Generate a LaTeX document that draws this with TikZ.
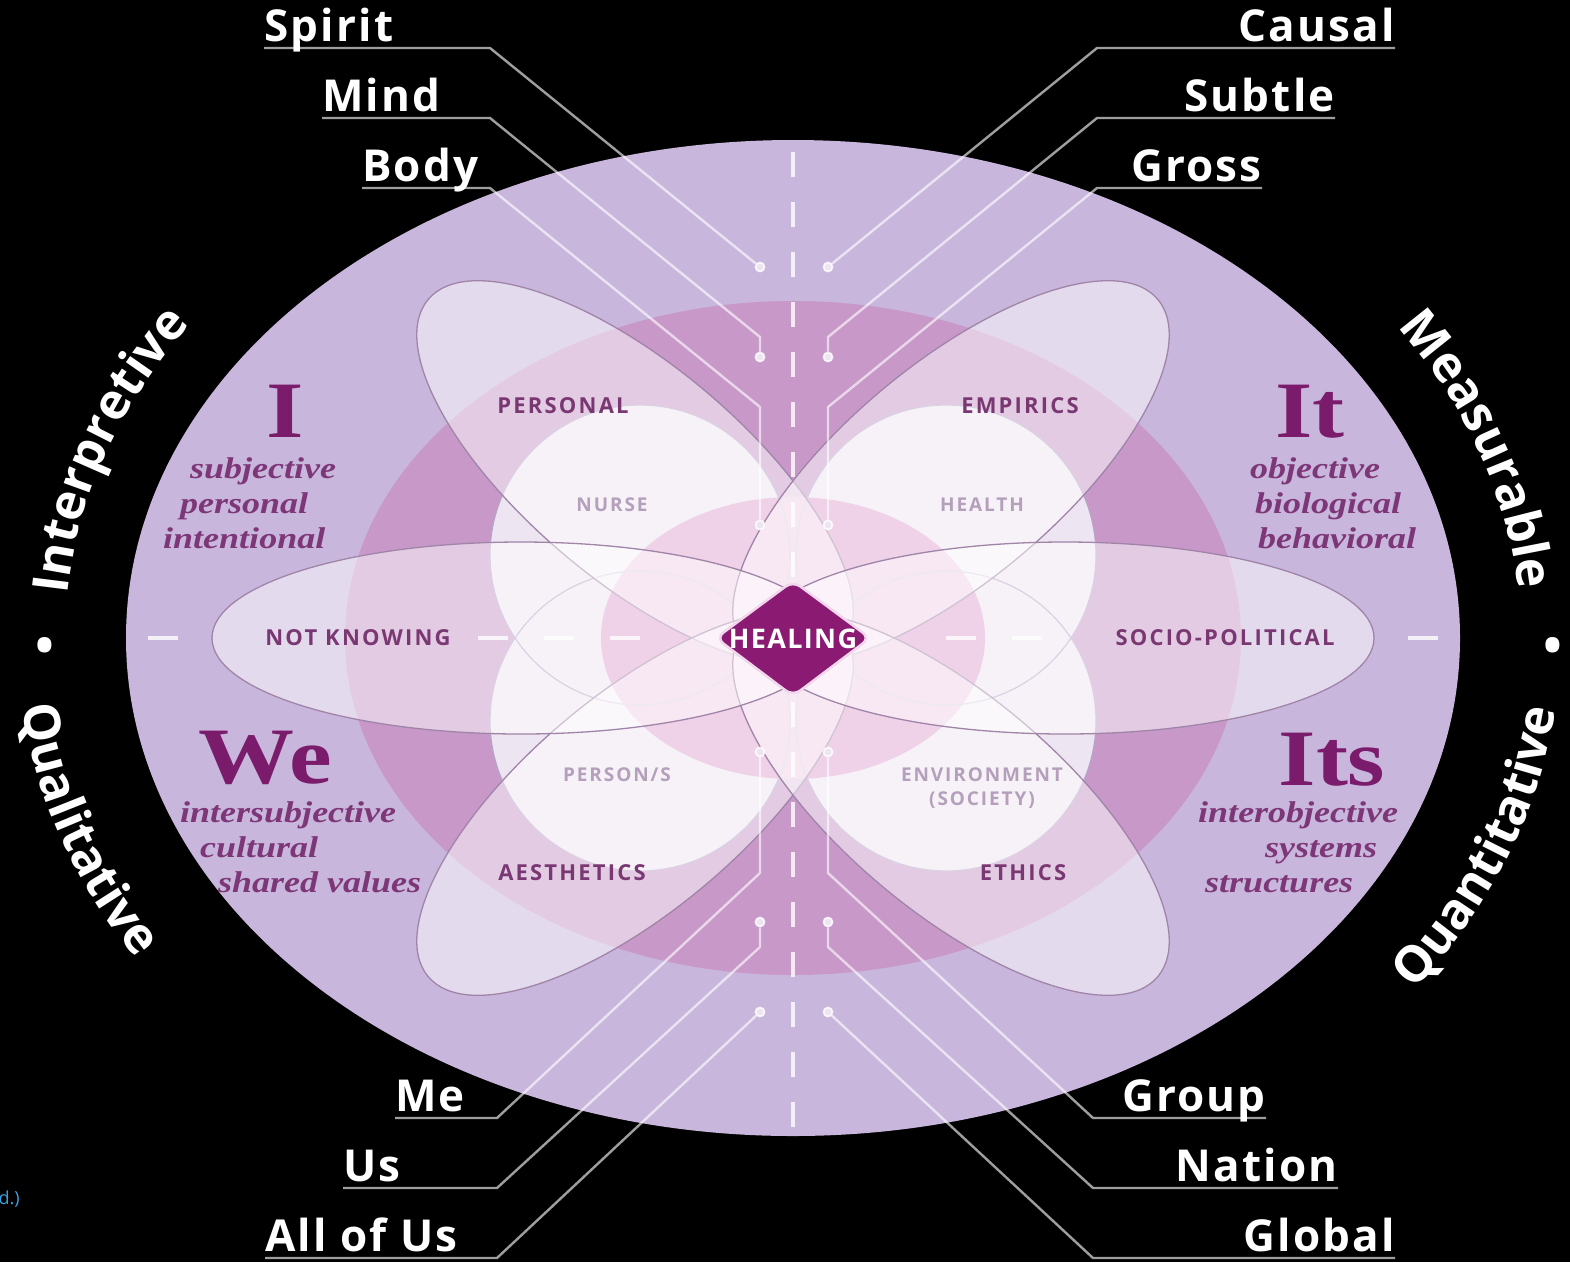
\documentclass[tikz,border=0pt]{standalone}
\usepackage{fontspec}
\setmainfont{Open Sans}
\newfontfamily\labfam{Open Sans}[LetterSpace=5]
\newfontfamily\petfam{Open Sans}[LetterSpace=10]
\newfontfamily\axisfam{Open Sans}
\newfontfamily\qserif{Liberation Serif}[FakeStretch=1.2]
\newfontfamily\smallfam{Open Sans}
\usetikzlibrary{decorations.text}
\definecolor{lav}{HTML}{C9B6DC}
\definecolor{mauve}{HTML}{C898C9}
\definecolor{pinkc}{HTML}{E0A4D2}
\definecolor{pale}{HTML}{EEE5F2}
\definecolor{plum}{HTML}{7B1B6B}
\definecolor{qtext}{HTML}{7D3677}
\definecolor{ptext}{HTML}{7A3872}
\definecolor{ctext}{HTML}{B5A0BC}
\definecolor{diam}{HTML}{8A1A72}
\definecolor{outl}{HTML}{A085A8}
\definecolor{circl}{HTML}{B7A3C7}
\definecolor{dedge}{HTML}{F2D6EC}
\definecolor{linkblue}{HTML}{3AA0E0}
\newcommand\axfont{\axisfam\bfseries\fontsize{50}{56}\selectfont}
\tikzset{
  lbl/.style={font=\labfam\bfseries\fontsize{44}{50}\selectfont, text=white, inner sep=0pt},
  leader/.style={draw=white, draw opacity=0.62, line width=2.4pt},
  dotn/.style={circle, draw=white, draw opacity=0.8, line width=1.8pt, fill=pale, inner sep=0pt, minimum size=9pt},
  petal/.style={fill=white, fill opacity=0.5, draw=outl, line width=1.3pt},
  circfill/.style={fill=pale},
  circline/.style={draw=circl, line width=1.2pt},
  dashl/.style={draw=white, draw opacity=0.8, line width=4pt},
  petlab/.style={font=\petfam\bfseries\fontsize{22}{26}\selectfont, text=ptext, inner sep=0pt},
  circlab/.style={font=\petfam\bfseries\fontsize{19}{23}\selectfont, text=ctext, inner sep=0pt},
  bigq/.style={font=\qserif\bfseries\fontsize{80}{84}\selectfont, text=plum, inner sep=0pt},
  qital/.style={font=\qserif\bfseries\itshape\fontsize{30}{34}\selectfont, text=qtext, inner sep=0pt, anchor=base west},
  axtext/.style={decorate, decoration={text along path, text align=center, text color=white, text={|\axfont|#1}}}
}
\begin{document}
\begin{tikzpicture}[x=1pt,y=-1pt]
\fill[black] (0,0) rectangle (1570,1262);
\useasboundingbox (0,0) rectangle (1570,1262);

% concentric fields
\fill[lav] (793,638) ellipse (667 and 498);
\fill[mauve] (793,638) ellipse (448 and 337);
\foreach \cx/\cy in {640/555, 946/555, 640/721, 946/721} \fill[circfill] (\cx,\cy) circle (150);
\fill[pinkc] (793,638) ellipse (192 and 141);
\foreach \cx/\cy in {640/555, 946/555, 640/721, 946/721} \draw[circline] (\cx,\cy) circle (150);

% petals
\path[petal, rotate around={140:(635,473)}] (635,473) ellipse (270 and 108);
\path[petal, rotate around={40:(951,473)}] (951,473) ellipse (270 and 108);
\path[petal, rotate around={40:(635,803)}] (635,803) ellipse (270 and 108);
\path[petal, rotate around={140:(951,803)}] (951,803) ellipse (270 and 108);
\path[petal] (521,638) ellipse (309 and 96);
\path[petal] (1065,638) ellipse (309 and 96);

% quadrant texts
\begin{scope}
\clip (793,638) ellipse (667 and 498);
\node[bigq, anchor=base] (qI) at (285,437) {I};
\node[bigq, anchor=base] (qIt) at (1310,437) {It};
\node[bigq, anchor=base] (qWe) at (265,783) {We};
\node[bigq, anchor=base] (qIts) at (1332,785) {Its};
\node[qital] (t1) at (190,478) {subjective};
\node[qital] (t2) at (180,513) {personal};
\node[qital] (t3) at (163,548) {intentional};
\node[qital] (t4) at (1250,478) {objective};
\node[qital] (t5) at (1255,513) {biological};
\node[qital] (t6) at (1258,548) {behavioral};
\node[qital] (t7) at (180,822) {intersubjective};
\node[qital] (t8) at (200,857) {cultural};
\node[qital] (t9) at (218,892) {shared values};
\node[qital] (t10) at (1198,822) {interobjective};
\node[qital] (t11) at (1265,857) {systems};
\node[qital] (t12) at (1205,892) {structures};
\end{scope}

% dashed axes
\draw[dashl, dash pattern=on 25pt off 25pt] (793,152) -- (793,1127);
\foreach \a/\b in {148/178, 478/508, 544/574, 610/640, 946/976, 1012/1042, 1408/1438}
  \draw[dashl] (\a,638) -- (\b,638);

% petal and circle labels
\node[petlab] (personal) at (563,406) {PERSONAL};
\node[petlab] (empirics) at (1020,406) {EMPIRICS};
\node[petlab] (notknowing) at (358,638) {NOT KNOWING};
\node[petlab] (socio) at (1225,638) {SOCIO-POLITICAL};
\node[petlab] (aesthetics) at (572,873) {AESTHETICS};
\node[petlab] (ethics) at (1023,873) {ETHICS};
\node[circlab] (nurse) at (612,505) {NURSE};
\node[circlab] (health) at (982,505) {HEALTH};
\node[circlab] (persons) at (617,775) {PERSON/S};
\node[circlab] (environment) at (982,775) {ENVIRONMENT};
\node[circlab] (society) at (982,800) {(SOCIETY)};

% outer curved texts
\path[axtext=Interpretive] plot[domain=0:1, samples=90] ({793+728*cos(197-70*\x)},{638-558*sin(197-70*\x)});
\path[axtext=Qualitative] plot[domain=0:1, samples=90] ({793+776*cos(163+70*\x)},{638-603*sin(163+70*\x)});
\path[axtext=Measurable] plot[domain=0:1, samples=90] ({793+728*cos(53-70*\x)},{638-558*sin(53-70*\x)});
\path[axtext=Quantitative] plot[domain=0:1, samples=90] ({793+768*cos(-55+70*\x)},{638-600*sin(-55+70*\x)});
\node[font=\axfont, text=white, inner sep=0pt] (bulL) at (45,650) {•};
\node[font=\axfont, text=white, inner sep=0pt] (bulR) at (1553,650) {•};

% labels
\node[lbl, anchor=base west] (spirit) at (264,41) {Spirit};
\node[lbl, anchor=base west] (mind) at (322,111) {Mind};
\node[lbl, anchor=base west] (body) at (362,181) {Body};
\node[lbl, anchor=base east] (causal) at (1395,41) {Causal};
\node[lbl, anchor=base east] (subtle) at (1335,111) {Subtle};
\node[lbl, anchor=base east] (gross) at (1262,181) {Gross};
\node[lbl, anchor=base west] (me) at (395,1111) {Me};
\node[lbl, anchor=base west] (us) at (343,1181) {Us};
\node[lbl, anchor=base west] (allofus) at (265,1251) {All of Us};
\node[lbl, anchor=base east] (group) at (1266,1111) {Group};
\node[lbl, anchor=base east] (nation) at (1338,1181) {Nation};
\node[lbl, anchor=base east] (global) at (1395,1251) {Global};

% leader coordinates and dots
\coordinate (spA) at (264,48);  \coordinate (spB) at (490,48);
\coordinate (miA) at (322,118); \coordinate (miB) at (490,118); \coordinate (miC) at (760,337);
\coordinate (boA) at (362,188); \coordinate (boB) at (490,188); \coordinate (boC) at (760,407);
\coordinate (caA) at (1395,48); \coordinate (caB) at (1097,48);
\coordinate (suA) at (1335,118); \coordinate (suB) at (1097,118); \coordinate (suC) at (828,337);
\coordinate (grA) at (1262,188); \coordinate (grB) at (1097,188); \coordinate (grC) at (828,407);
\coordinate (meA) at (395,1118); \coordinate (meB) at (497,1118); \coordinate (meC) at (760,873);
\coordinate (usA) at (343,1188); \coordinate (usB) at (497,1188); \coordinate (usC) at (760,947);
\coordinate (alA) at (265,1258); \coordinate (alB) at (497,1258);
\coordinate (gpA) at (1266,1118); \coordinate (gpB) at (1093,1118); \coordinate (gpC) at (828,873);
\coordinate (naA) at (1338,1188); \coordinate (naB) at (1093,1188); \coordinate (naC) at (828,947);
\coordinate (glA) at (1395,1258); \coordinate (glB) at (1093,1258);

\node[dotn] (dSp) at (760,267) {};
\node[dotn] (dMi) at (760,357) {};
\node[dotn] (dBo) at (760,525) {};
\node[dotn] (dCa) at (828,267) {};
\node[dotn] (dSu) at (828,357) {};
\node[dotn] (dGr) at (828,525) {};
\node[dotn] (dMe) at (760,752) {};
\node[dotn] (dUs) at (760,922) {};
\node[dotn] (dAl) at (760,1012) {};
\node[dotn] (dGp) at (828,752) {};
\node[dotn] (dNa) at (828,922) {};
\node[dotn] (dGl) at (828,1012) {};

\draw[leader] (spA) -- (spB) -- (dSp);
\draw[leader] (miA) -- (miB) -- (miC) -- (dMi);
\draw[leader] (boA) -- (boB) -- (boC) -- (dBo);
\draw[leader] (caA) -- (caB) -- (dCa);
\draw[leader] (suA) -- (suB) -- (suC) -- (dSu);
\draw[leader] (grA) -- (grB) -- (grC) -- (dGr);
\draw[leader] (meA) -- (meB) -- (meC) -- (dMe);
\draw[leader] (usA) -- (usB) -- (usC) -- (dUs);
\draw[leader] (alA) -- (alB) -- (dAl);
\draw[leader] (gpA) -- (gpB) -- (gpC) -- (dGp);
\draw[leader] (naA) -- (naB) -- (naC) -- (dNa);
\draw[leader] (glA) -- (glB) -- (dGl);

% healing diamond
\path[fill=diam, draw=dedge, line width=2.5pt, rounded corners=9pt] (716,638) -- (793,581) -- (870,638) -- (793,696) -- cycle;
\node[font=\labfam\bfseries\fontsize{27}{30}\selectfont, text=white, inner sep=0pt] (healing) at (793,639) {HEALING};

% cropped caption fragment
\node[font=\smallfam\fontsize{18}{20}\selectfont, text=linkblue, anchor=base east, inner sep=0pt] (frag) at (20,1204) {d.)};
\end{tikzpicture}
\end{document}
